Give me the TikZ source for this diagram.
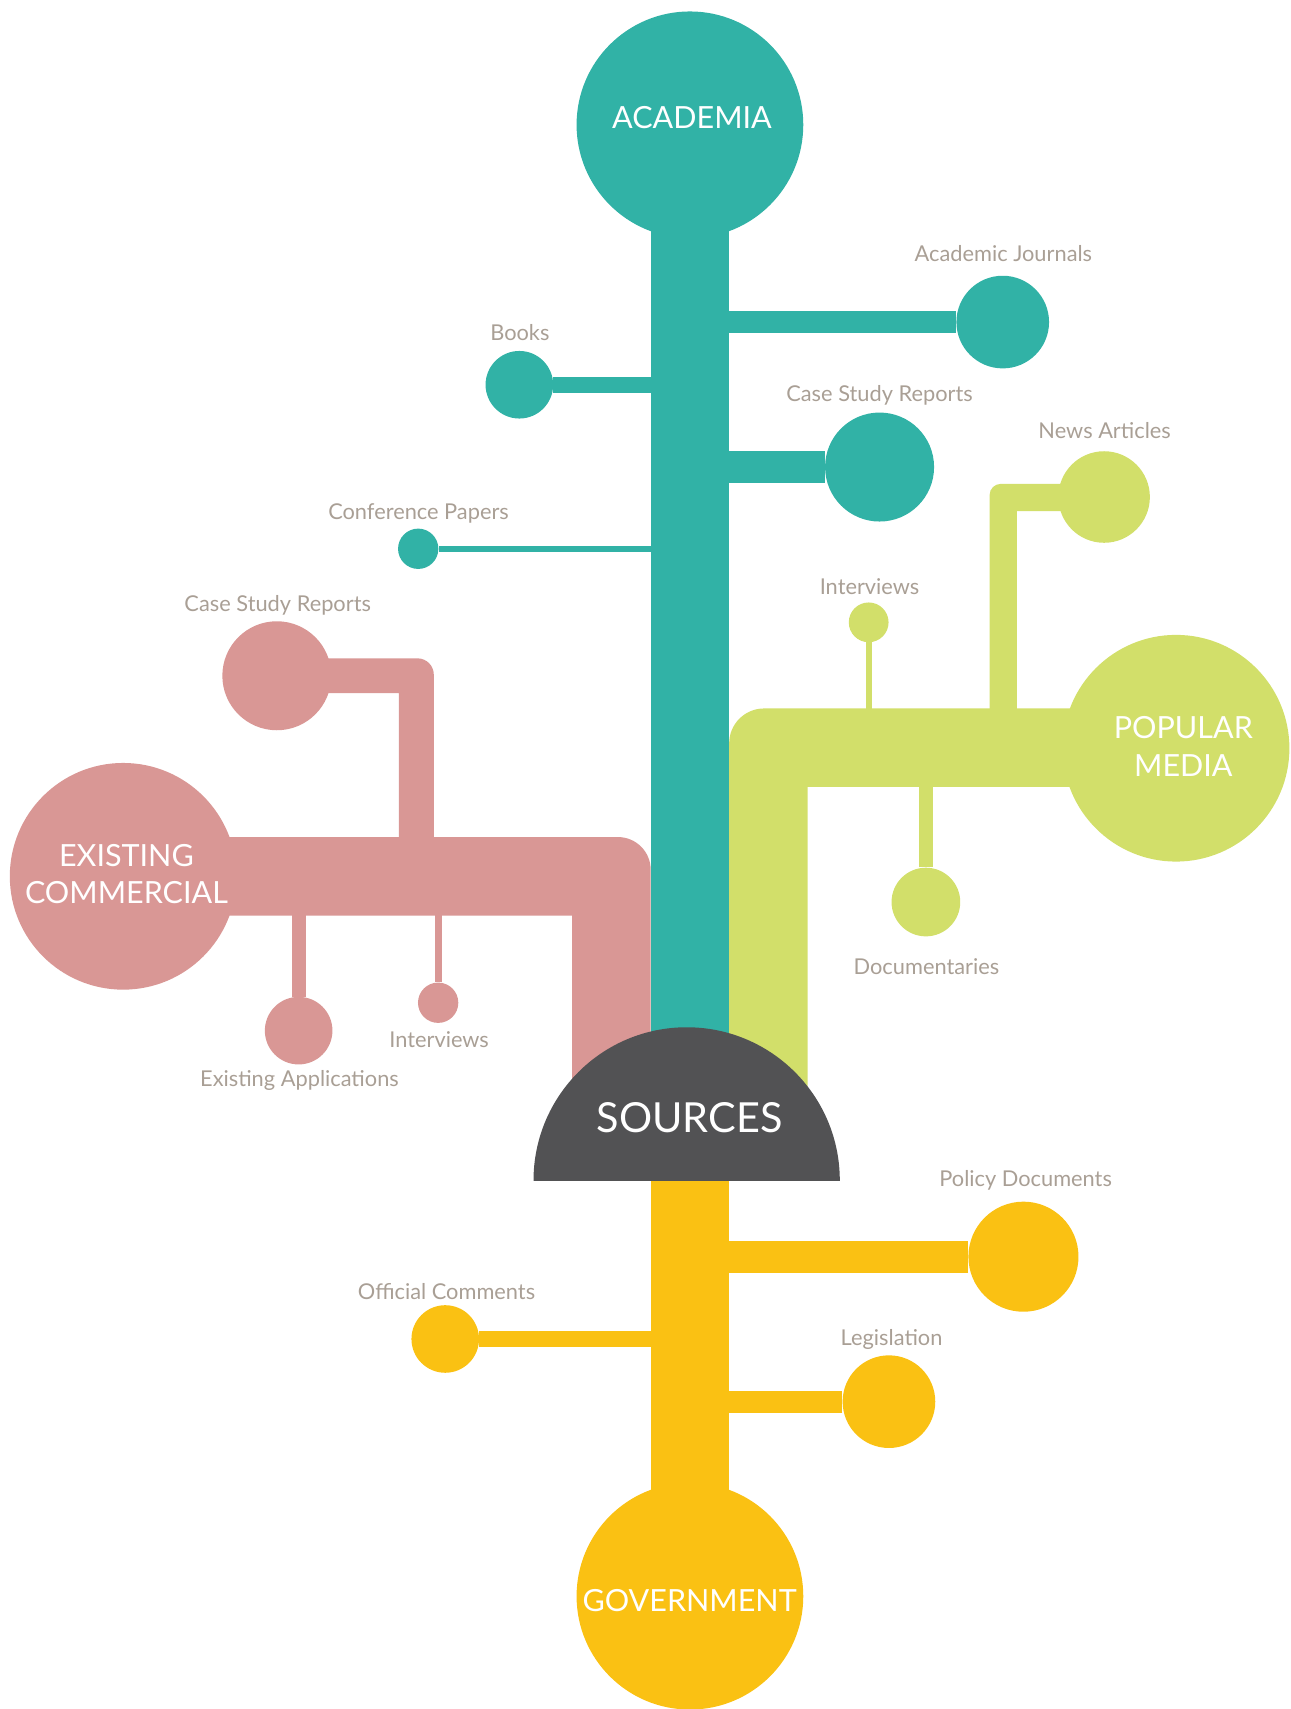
\documentclass[tikz,border=0pt]{standalone}
\usepackage{fontspec}
\setmainfont{Lato}

\definecolor{acad}{HTML}{31B2A6}
\definecolor{media}{HTML}{D2DF6A}
\definecolor{comm}{HTML}{D99795}
\definecolor{gov}{HTML}{FAC113}
\definecolor{src}{HTML}{525254}
\definecolor{tagc}{HTML}{A99F95}

\begin{document}
\begin{tikzpicture}[
  x=1pt, y=-1pt,
  hub/.style={circle, inner sep=0pt, minimum size=208pt},
  leaf/.style={circle, inner sep=0pt, minimum size=#1},
  title/.style={text=white, font=\fontsize{28}{34.6}\selectfont, align=center},
  tag/.style={text=tagc, font=\fontsize{20}{24}\selectfont, anchor=base},
  twig/.style={line width=#1}
]
\useasboundingbox (0,0) rectangle (1184,1568);

% existing commercial
\node[hub, fill=comm] (ecom) at (113,804) {};
\fill[comm] (525,1083) -- (525,840) -- (113,840) [rounded corners=30pt]
  -- (113,768) -- (597,768) -- (597,1083) -- cycle;
\node[leaf=100pt, fill=comm] (ccase) at (254,620) {};
\fill[comm] (366,804) -- (366,636) -- (254,636) [rounded corners=15pt]
  -- (254,604) -- (398,604) -- (398,804) -- cycle;
\node[leaf=62pt, fill=comm] (apps) at (274,945.6) {};
\node[leaf=37pt, fill=comm] (cint) at (402,920) {};
\draw[twig=13pt, comm] (apps) -- (apps |- ecom);
\draw[twig=6.5pt, comm] (cint) -- (cint |- ecom);

% popular media
\node[hub, fill=media] (pmedia) at (1079,686.5) {};
\fill[media] (741,1083) -- (741,722) -- (1079,722) [rounded corners=32pt]
  -- (1079,650) -- (669,650) -- (669,1083) -- cycle;
\node[leaf=84pt, fill=media] (news) at (1013,456) {};
\fill[media] (933,686) -- (933,469) -- (1013,469) [rounded corners=10pt]
  -- (1013,444) -- (908,444) -- (908,686) -- cycle;
\node[leaf=36.5pt, fill=media] (mint) at (797,571) {};
\node[leaf=63pt, fill=media] (docs) at (849.5,827.6) {};
\draw[twig=5.5pt, media] (mint) -- (mint |- pmedia);
\draw[twig=13pt, media] (docs) -- (docs |- pmedia);

% academia
\node[hub, fill=acad] (academia) at (633,114.5) {};
\coordinate (acadfoot) at (633,1083);
\draw[twig=72pt, acad] (academia.center) -- (acadfoot);
\node[leaf=85pt, fill=acad] (journals) at (920,295.5) {};
\node[leaf=62pt, fill=acad] (books) at (476.5,353) {};
\node[leaf=100pt, fill=acad] (tcase) at (807,428.5) {};
\node[leaf=37pt, fill=acad] (conf) at (383.7,503.5) {};
\draw[twig=19.5pt, acad] (journals) -- (journals -| academia);
\draw[twig=15pt, acad] (books) -- (books -| academia);
\draw[twig=29pt, acad] (tcase) -- (tcase -| academia);
\draw[twig=5.5pt, acad] (conf) -- (conf -| academia);

% government
\node[hub, fill=gov] (government) at (633,1464.5) {};
\draw[twig=72pt, gov] (government.center) -- (acadfoot);
\node[leaf=101pt, fill=gov] (policy) at (939,1153) {};
\node[leaf=62pt, fill=gov] (official) at (408.5,1228.5) {};
\node[leaf=85pt, fill=gov] (legis) at (815.6,1286) {};
\draw[twig=29.5pt, gov] (policy) -- (policy -| government);
\draw[twig=15pt, gov] (official) -- (official -| government);
\draw[twig=20pt, gov] (legis) -- (legis -| government);

% sources dome
\begin{scope}
  \clip (480,930) rectangle (780,1083);
  \node[circle, inner sep=0pt, minimum size=281pt, fill=src] (sources) at (630,1083) {};
\end{scope}

% headings
\node[title, anchor=base] (academiaT) at (634.9,117.8) {ACADEMIA};
\node[title, anchor=base, font=\fontsize{38}{44}\selectfont] (sourcesT) at (632.8,1038.7) {SOURCES};
\node[title, anchor=base] (governmentT) at (632.7,1478.4) {GOVERNMENT};
\node[title] (pmediaT) at (1085.7,685) {POPULAR\\MEDIA};
\node[title] (ecomT) at (116,802) {EXISTING\\COMMERCIAL};

% labels
\node[tag] (journalsL) at (920.6,240.2) {Academic Journals};
\node[tag] (booksL) at (477,312.6) {Books};
\node[tag] (tcaseL) at (807,368.8) {Case Study Reports};
\node[tag] (confL) at (384,476.7) {Conference Papers};
\node[tag] (newsL) at (1013.5,402.2) {News Articles};
\node[tag] (mintL) at (797.8,545.9) {Interviews};
\node[tag] (ccaseL) at (254.8,561) {Case Study Reports};
\node[tag] (docsL) at (850,894) {Documentaries};
\node[tag] (cintL) at (402.9,961.5) {Interviews};
\node[tag] (appsL) at (274.8,996.6) {Existing Applications};
\node[tag] (policyL) at (941,1088.8) {Policy Documents};
\node[tag] (officialL) at (409.7,1192.1) {Official Comments};
\node[tag] (legisL) at (818,1234.2) {Legislation};

\end{tikzpicture}
\end{document}
